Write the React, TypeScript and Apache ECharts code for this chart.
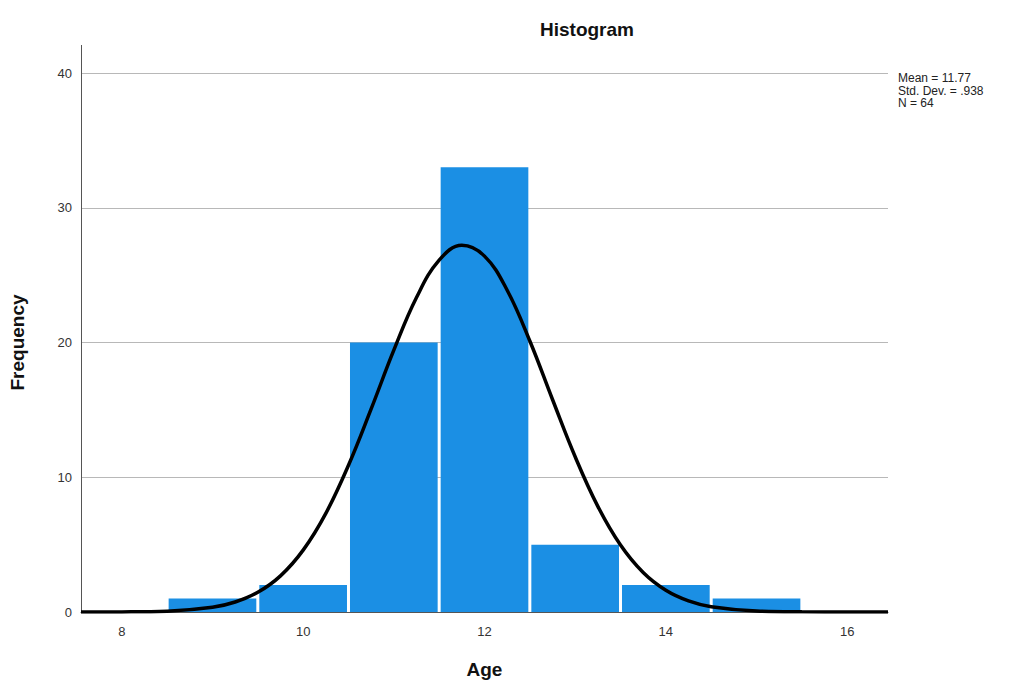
import React, { useEffect, useRef } from "react";
import * as echarts from "echarts";

const binCenters = [9, 10, 11, 12, 13, 14, 15];
const frequencies = [1, 2, 20, 33, 5, 2, 1];
const curveX = [7.55, 8, 8.5, 9, 9.25, 9.5, 9.75, 10, 10.25, 10.5, 10.75, 11, 11.25, 11.5, 11.75, 12, 12.25, 12.5, 12.75, 13, 13.25, 13.5, 13.75, 14, 14.25, 14.5, 15, 15.5, 16, 16.45];
const curveY = [0.001, 0.008, 0.06, 0.35, 0.74, 1.46, 2.68, 4.59, 7.32, 10.89, 15.07, 19.43, 23.34, 26.11, 27.21, 26.41, 23.88, 20.11, 15.77, 11.52, 7.84, 4.97, 2.93, 1.61, 0.82, 0.39, 0.07, 0.01, 0.001, 0];
const yTicks = [0, 10, 20, 30, 40];
const xTicks = [8, 10, 12, 14, 16];
const statsLines = ["Mean = 11.77", "Std. Dev. = .938", "N = 64"];

export default function App() {
  const ref = useRef<HTMLDivElement>(null);
  useEffect(() => {
    if (!ref.current) return;
    const chart = echarts.init(ref.current, null, { renderer: "svg" });
    const font = "Arial, 'Liberation Sans', sans-serif";
    chart.setOption({
      animation: false,
      backgroundColor: "#ffffff",
      textStyle: { fontFamily: font },
      grid: { left: 78, right: 125, top: 73, bottom: 72 },
      title: {
        text: "Histogram",
        left: 535,
        top: 15,
        textStyle: { fontSize: 19, fontWeight: "bold", color: "#111", fontFamily: font },
      },
      xAxis: {
        type: "value",
        min: 7.55,
        max: 16.45,
        name: "Age",
        nameLocation: "middle",
        nameGap: 48,
        nameTextStyle: { fontSize: 19, fontWeight: "bold", color: "#111", fontFamily: font },
        axisLine: { show: true, lineStyle: { color: "#555", width: 1 } },
        axisTick: { show: false },
        splitLine: { show: false },
        axisLabel: {
          color: "#333",
          fontSize: 13,
          margin: 13,
          customValues: xTicks,
          formatter: (v: number) => String(v),
        },
      },
      yAxis: {
        type: "value",
        min: 0,
        max: 40,
        interval: 10,
        name: "Frequency",
        nameLocation: "middle",
        nameGap: 54,
        nameRotate: 90,
        nameTextStyle: { fontSize: 19, fontWeight: "bold", color: "#111", fontFamily: font },
        axisLine: { show: true, lineStyle: { color: "#555", width: 1 } },
        axisTick: { show: false },
        splitLine: { show: true, lineStyle: { color: "#b8b8b8", width: 1 } },
        axisLabel: {
          color: "#333",
          fontSize: 13,
          margin: 9,
          customValues: yTicks,
        },
      },
      series: [
        {
          type: "custom",
          data: binCenters.map((c, i) => [c, frequencies[i]]),
          renderItem: (params: any, api: any) => {
            const c = api.value(0);
            const v = api.value(1);
            const p0 = api.coord([c - 0.5, 0]);
            const p1 = api.coord([c + 0.5, v]);
            return {
              type: "rect",
              shape: {
                x: p0[0] + 1.5,
                y: p1[1],
                width: p1[0] - p0[0] - 3,
                height: p0[1] - p1[1],
              },
              style: { fill: "#1b8fe4" },
            };
          },
          z: 2,
        },
        {
          type: "line",
          data: curveX.map((x, i) => [x, curveY[i]]),
          smooth: 0.4,
          showSymbol: false,
          symbol: "none",
          lineStyle: { color: "#000", width: 3.5 },
          z: 3,
        },
      ],
    });
    const topLeft = chart.convertToPixel({ gridIndex: 0 }, [7.55, 40]) as number[];
    const axisX = Math.round(topLeft[0]) + 0.5;
    chart.setOption({
      graphic: [
        {
          type: "line",
          shape: { x1: axisX, y1: 45, x2: axisX, y2: topLeft[1] },
          style: { stroke: "#555", lineWidth: 1 },
        },
        {
          type: "text",
          left: 898,
          top: 72,
          style: {
            text: statsLines.join("\n"),
            fontSize: 12,
            lineHeight: 12.5,
            fill: "#222",
            fontFamily: font,
          },
        },
      ],
    });
    return () => chart.dispose();
  }, []);
  return <div ref={ref} style={{ width: 1013, height: 684, position: "absolute", left: 0, top: 0 }} />;
}
